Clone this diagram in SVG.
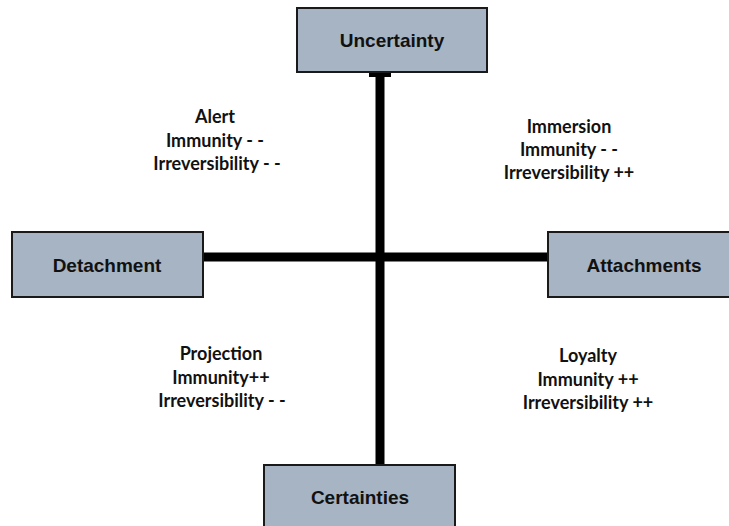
<svg xmlns="http://www.w3.org/2000/svg" width="729" height="526" viewBox="0 0 729 526">
<style>
.box{fill:#A6B4C3;stroke:#1a1a1a;stroke-width:2}
.lbl{font-family:"Liberation Sans",Arial,sans-serif;font-weight:bold;font-size:19px;fill:#111;text-anchor:middle}
.q{font-family:Lato,"Open Sans",sans-serif;font-weight:bold;font-size:18px;fill:#111;text-anchor:middle}
.ax{stroke:#000;stroke-width:9;fill:none}
</style>
<rect width="729" height="526" fill="#fff"/>
<g id="connectors">
<line class="ax" x1="380" y1="77" x2="380" y2="465"/>
<line class="ax" x1="203" y1="257" x2="548" y2="257"/>
<rect x="369" y="72" width="22" height="5" fill="#000"/>
</g>
<g id="uncertainty"><rect class="box" x="297" y="8" width="190" height="64"/><text class="lbl" x="392" y="47">Uncertainty</text></g>
<g id="detachment"><rect class="box" x="12" y="232" width="191" height="65"/><text class="lbl" x="107" y="272">Detachment</text></g>
<g id="attachments"><rect class="box" x="548" y="232" width="190" height="65"/><text class="lbl" x="644" y="272">Attachments</text></g>
<g id="certainties"><rect class="box" x="264" y="465" width="191" height="70"/><text class="lbl" x="360" y="504">Certainties</text></g>
<g id="alert"><text class="q" x="215" y="123">Alert</text><text class="q" x="215" y="147">Immunity - -</text><text class="q" x="217" y="170">Irreversibility - -</text></g>
<g id="immersion"><text class="q" x="569" y="133">Immersion</text><text class="q" x="569" y="156">Immunity - -</text><text class="q" x="569" y="179">Irreversibility ++</text></g>
<g id="projection"><text class="q" x="221" y="360">Projection</text><text class="q" x="221" y="384">Immunity++</text><text class="q" x="222" y="407">Irreversibility - -</text></g>
<g id="loyalty"><text class="q" x="588" y="362">Loyalty</text><text class="q" x="588" y="386">Immunity ++</text><text class="q" x="588" y="409">Irreversibility ++</text></g>
</svg>
